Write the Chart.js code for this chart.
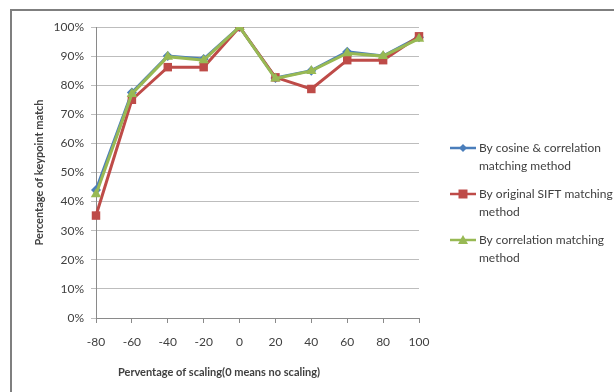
<!DOCTYPE html>
<html>
<head>
<meta charset="utf-8">
<script src="https://cdn.jsdelivr.net/npm/chart.js@4/dist/chart.umd.min.js"></script>
<style>
  html, body { margin: 0; padding: 0; background: #fff; }
  #wrap { width: 614px; height: 392px; position: relative; }
</style>
</head>
<body>
<div id="wrap"><canvas id="c" width="614" height="392"></canvas></div>
<script>
// Scaling percentages (category axis)
const scaling = ['-80', '-60', '-40', '-20', '0', '20', '40', '60', '80', '100'];

// Keypoint match percentages per method
const cosineCorrelation = [44, 77.5, 90, 89, 100, 82.5, 85, 91.5, 90, 96.5];
const originalSift      = [35.2, 75, 86.2, 86.2, 100, 82.7, 78.7, 88.6, 88.6, 96.8];
const correlationOnly   = [42.5, 77, 89.8, 88.6, 100, 82.3, 84.9, 91, 90, 96];

const seriesNames = [
  ['By cosine & correlation', 'matching method'],
  ['By original SIFT matching', 'method'],
  ['By correlation matching', 'method']
];

const yTicks = [0, 10, 20, 30, 40, 50, 60, 70, 80, 90, 100];
const xTitle = 'Perventage of scaling(0 means no scaling)';
const yTitle = 'Percentage of keypoint match';

const FONT = 'Lato, "Open Sans", sans-serif';
const TEXT = '#404040';

// Outer frame, x-axis title and the wrapped legend on the right
const decorations = {
  id: 'decorations',
  afterDraw(chart) {
    const ctx = chart.ctx;
    ctx.save();
    ctx.strokeStyle = '#7f7f7f';
    ctx.lineWidth = 2;
    ctx.beginPath();
    ctx.moveTo(11, chart.height);
    ctx.lineTo(11, 10);
    ctx.lineTo(chart.width, 10);
    ctx.stroke();

    ctx.fillStyle = TEXT;
    ctx.font = 'bold 11px ' + FONT;
    ctx.textAlign = 'center';
    ctx.textBaseline = 'middle';
    ctx.fillText(xTitle, 219, 372);

    // legend
    const x0 = 450, x1 = 476;
    const rows = [148, 194, 240];
    chart.data.datasets.forEach((ds, i) => {
      const y = rows[i];
      ctx.strokeStyle = ds.borderColor;
      ctx.lineWidth = 2.5;
      ctx.beginPath();
      ctx.moveTo(x0, y);
      ctx.lineTo(x1, y);
      ctx.stroke();
      ctx.fillStyle = ds.pointBackgroundColor;
      const cx = (x0 + x1) / 2;
      ctx.beginPath();
      if (ds.pointStyle === 'rectRot') {
        ctx.moveTo(cx, y - 4); ctx.lineTo(cx + 4, y); ctx.lineTo(cx, y + 4); ctx.lineTo(cx - 4, y);
      } else if (ds.pointStyle === 'rect') {
        ctx.rect(cx - 4.5, y - 4.5, 9, 9);
      } else {
        ctx.moveTo(cx, y - 5); ctx.lineTo(cx + 5, y + 4); ctx.lineTo(cx - 5, y + 4);
      }
      ctx.closePath();
      ctx.fill();
      ctx.fillStyle = TEXT;
      ctx.font = '12px ' + FONT;
      ctx.textAlign = 'left';
      ctx.textBaseline = 'middle';
      seriesNames[i].forEach((line, k) => ctx.fillText(line, 479, y + k * 18));
    });
    ctx.restore();
  }
};

const common = { borderWidth: 3, pointBorderWidth: 0, tension: 0 };

new Chart(document.getElementById('c'), {
  type: 'line',
  data: {
    labels: scaling,
    datasets: [
      Object.assign({
        label: seriesNames[0].join(' '),
        data: cosineCorrelation,
        borderColor: '#4a7ebb',
        pointBackgroundColor: '#4a7ebb',
        pointStyle: 'rectRot',
        pointRadius: 5,
        order: 2
      }, common),
      Object.assign({
        label: seriesNames[1].join(' '),
        data: originalSift,
        borderColor: '#be4b48',
        pointBackgroundColor: '#be4b48',
        pointStyle: 'rect',
        pointRadius: 6,
        order: 1
      }, common),
      Object.assign({
        label: seriesNames[2].join(' '),
        data: correlationOnly,
        borderColor: '#98b954',
        pointBackgroundColor: '#98b954',
        pointStyle: 'triangle',
        pointRadius: 6,
        order: 0
      }, common)
    ]
  },
  options: {
    responsive: false,
    animation: false,
    devicePixelRatio: 1,
    layout: { padding: { left: 0, top: 27, right: 195, bottom: 0 } },
    plugins: { legend: { display: false }, tooltip: { enabled: false } },
    scales: {
      x: {
        offset: false,
        afterFit(s) { s.height = 74; },
        grid: { display: true, drawOnChartArea: false, drawTicks: true, tickLength: 5, color: '#8a8a8a' },
        border: { color: '#8a8a8a', width: 1 },
        ticks: { color: TEXT, font: { family: FONT, size: 12 }, padding: 12, maxRotation: 0, autoSkip: false }
      },
      y: {
        min: 0,
        max: 100,
        afterFit(s) { s.width = 96; },
        afterBuildTicks(s) { s.ticks = yTicks.map(v => ({ value: v })); },
        grid: { color: '#bdbdbd', lineWidth: 1, drawTicks: true, tickLength: 5 },
        border: { color: '#8a8a8a', width: 1 },
        ticks: { color: TEXT, font: { family: FONT, size: 12 }, padding: 7, callback: v => v + '%' },
        title: { display: true, text: yTitle, color: TEXT, font: { family: FONT, size: 11, weight: 'bold' }, padding: { top: 33, bottom: 0 } }
      }
    }
  },
  plugins: [decorations]
});
</script>
</body>
</html>
